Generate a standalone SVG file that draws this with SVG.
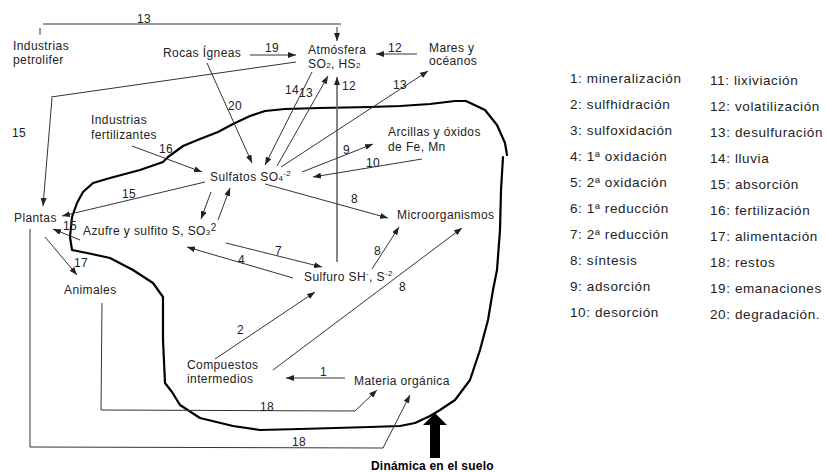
<svg xmlns="http://www.w3.org/2000/svg" width="826" height="472" viewBox="0 0 826 472">
<defs>
<marker id="ah" markerWidth="8" markerHeight="6" refX="8" refY="3" orient="auto" markerUnits="userSpaceOnUse"><path d="M0,0 L8,3 L0,6 z" fill="#222"/></marker>
<style>
text{font-family:"Liberation Sans",Arial,sans-serif;fill:#222}
.n{font-size:12px;letter-spacing:0.3px}
.lb{font-size:12px;letter-spacing:0.4px}
.lg{font-size:13.5px;letter-spacing:0.6px}
.s{font-size:8px}
.c{stroke:#333;stroke-width:1;fill:none}
.a{marker-end:url(#ah)}
</style>
</defs>
<rect width="826" height="472" fill="#fff"/>

<g id="soil">
<path d="M168,157 L183,146 L200,139 L218,132 L233,124 L250,116 L265,111 L285,109 L320,108 L370,107 L400,106 L430,104 L455,101 L466,101 L485,110 L497,125 L505,143 L507,155 M503,157 L501,190 L500,230 L497,270 L493,290 L488,320 L480,350 L470,380 L455,400 L440,410 L430,416 L415,423 L400,426 L370,427 L300,429 L260,430 L233,426 L200,418 L180,405 L172,392 L165,383 L163,340 L163,310 L163,297 L153,283 L133,270 L110,258 L87,253 L72,250 L70,237 L72,217 L77,203 L83,192 L93,183 L110,178 L140,170 L163,162 L168,157" fill="none" stroke="#000" stroke-width="2.2" stroke-linejoin="round" stroke-linecap="round"/>
<polygon points="430,458 440,458 440,425 447,425 435,413 423,425 430,425" fill="#000"/>
<text x="371" y="470" font-size="12" font-weight="bold" letter-spacing="0.2" style="fill:#000">Dinámica en el suelo</text>
</g>

<g id="connectors">
<line class="c" x1="43" y1="24" x2="341" y2="24"/>
<line class="c" x1="40" y1="28" x2="40" y2="35"/>
<line class="c a" x1="337" y1="27" x2="337" y2="41"/>
<line class="c a" x1="250" y1="55" x2="296" y2="55"/>
<polyline class="c" points="296,62 51,97"/>
<line class="c a" x1="52" y1="98" x2="43" y2="206"/>
<line class="c a" x1="417" y1="54" x2="376" y2="54"/>
<line class="c a" x1="312" y1="72" x2="265" y2="165"/>
<line class="c a" x1="277" y1="166" x2="328" y2="76"/>
<line class="a" x1="337" y1="262" x2="337" y2="77" stroke="#666" stroke-width="1.6"/>
<line class="c a" x1="281" y1="167" x2="428" y2="71"/>
<line class="c a" x1="207" y1="63" x2="252" y2="163"/>
<line class="c a" x1="132" y1="146" x2="202" y2="172"/>
<line class="c a" x1="302" y1="172" x2="373" y2="144"/>
<line class="c a" x1="422" y1="159" x2="313" y2="177"/>
<line class="c a" x1="265" y1="184" x2="388" y2="218"/>
<line class="c a" x1="372" y1="269" x2="399" y2="227"/>
<line class="c a" x1="273" y1="370" x2="462" y2="228"/>
<line class="c a" x1="226" y1="243" x2="322" y2="267"/>
<line class="c a" x1="293" y1="278" x2="187" y2="247"/>
<line class="c a" x1="211" y1="192" x2="201" y2="219"/>
<line class="c a" x1="218" y1="220" x2="230" y2="188"/>
<line class="c a" x1="205" y1="182" x2="62" y2="216"/>
<line class="c a" x1="80" y1="240" x2="53" y2="229"/>
<line class="c a" x1="45" y1="237" x2="77" y2="275"/>
<polyline class="c a" points="102,303 101,410 355,411 377,390"/>
<polyline class="c a" points="30,229 30,447 383,448 410,395"/>
<line class="c a" x1="215" y1="359" x2="315" y2="292"/>
<line class="c a" x1="345" y1="378" x2="286" y2="378"/>
</g>

<g id="edge-labels">
<text class="n" x="137" y="23">13</text>
<text class="n" x="265" y="52">19</text>
<text class="n" x="388" y="52">12</text>
<text class="n" x="12" y="137">15</text>
<text class="n" x="228" y="110">20</text>
<text class="n" x="285" y="94">14</text>
<text class="n" x="299" y="97">13</text>
<text class="n" x="342" y="90">12</text>
<text class="n" x="393" y="89">13</text>
<text class="n" x="159" y="153">16</text>
<text class="n" x="343" y="154">9</text>
<text class="n" x="366" y="167">10</text>
<text class="n" x="351" y="203">8</text>
<text class="n" x="374" y="255">8</text>
<text class="n" x="399" y="291">8</text>
<text class="n" x="275" y="255">7</text>
<text class="n" x="238" y="264">4</text>
<text class="n" x="122" y="198">15</text>
<text class="n" x="63" y="230">15</text>
<text class="n" x="74" y="267">17</text>
<text class="n" x="237" y="334">2</text>
<text class="n" x="320" y="376">1</text>
<text class="n" x="260" y="411">18</text>
<text class="n" x="292" y="446">18</text>
</g>

<g id="n-petro"><text class="lb" x="13" y="50">Industrias</text><text class="lb" x="13" y="64">petrolifer</text></g>
<g id="n-rocas"><text class="lb" x="163" y="57">Rocas Ígneas</text></g>
<g id="n-atm"><text class="lb" x="308" y="54">Atmósfera</text><text class="lb" x="308" y="68">SO<tspan class="s">2</tspan>, HS<tspan class="s">2</tspan></text></g>
<g id="n-mares"><text class="lb" x="429" y="52">Mares y</text><text class="lb" x="429" y="65">océanos</text></g>
<g id="n-fert"><text class="lb" x="91" y="124">Industrias</text><text class="lb" x="91" y="139">fertilizantes</text></g>
<g id="n-sulfatos"><text class="lb" x="210" y="181">Sulfatos SO<tspan class="s">4</tspan><tspan class="s" dy="-5">-2</tspan></text></g>
<g id="n-arcillas"><text class="lb" x="388" y="136">Arcillas y óxidos</text><text class="lb" x="388" y="151">de Fe, Mn</text></g>
<g id="n-micro"><text class="lb" x="397" y="219">Microorganismos</text></g>
<g id="n-azufre"><text class="lb" x="83" y="235">Azufre y sulfito S, SO<tspan class="s">3</tspan><tspan font-size="10" dy="-4">2</tspan></text></g>
<g id="n-sulfuro"><text class="lb" x="304" y="281">Sulfuro SH<tspan class="s" dy="-5">-</tspan><tspan dy="5">, S</tspan><tspan class="s" dy="-5">-2</tspan></text></g>
<g id="n-plantas"><text class="lb" x="14" y="222">Plantas</text></g>
<g id="n-animales"><text class="lb" x="64" y="294">Animales</text></g>
<g id="n-compuestos"><text class="lb" x="187" y="369">Compuestos</text><text class="lb" x="187" y="383">intermedios</text></g>
<g id="n-materia"><text class="lb" x="354" y="385">Materia orgánica</text></g>

<g id="legend">
<text class="lg" x="570" y="83">1: mineralización</text>
<text class="lg" x="570" y="109">2: sulfhidración</text>
<text class="lg" x="570" y="135">3: sulfoxidación</text>
<text class="lg" x="570" y="161">4: 1ª oxidación</text>
<text class="lg" x="570" y="187">5: 2ª oxidación</text>
<text class="lg" x="570" y="213">6: 1ª reducción</text>
<text class="lg" x="570" y="239">7: 2ª reducción</text>
<text class="lg" x="570" y="265">8: síntesis</text>
<text class="lg" x="570" y="291">9: adsorción</text>
<text class="lg" x="570" y="317">10: desorción</text>
<text class="lg" x="710" y="85">11: lixiviación</text>
<text class="lg" x="710" y="111">12: volatilización</text>
<text class="lg" x="710" y="137">13: desulfuración</text>
<text class="lg" x="710" y="163">14: lluvia</text>
<text class="lg" x="710" y="189">15: absorción</text>
<text class="lg" x="710" y="215">16: fertilización</text>
<text class="lg" x="710" y="241">17: alimentación</text>
<text class="lg" x="710" y="267">18: restos</text>
<text class="lg" x="710" y="293">19: emanaciones</text>
<text class="lg" x="710" y="319">20: degradación.</text>
</g>
</svg>
